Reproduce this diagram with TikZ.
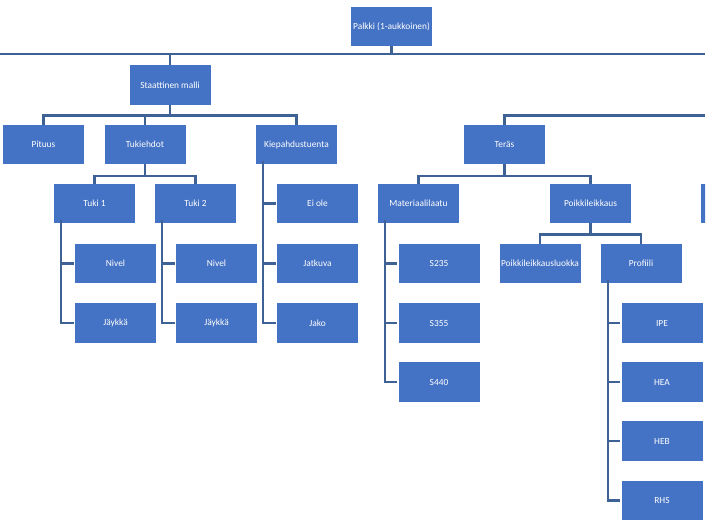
\documentclass[tikz,border=0pt]{standalone}
\usepackage{fontspec}
\setmainfont{Carlito}
\definecolor{boxblue}{RGB}{68,114,196}
\definecolor{lineblue}{RGB}{62,98,150}
\begin{document}
\begin{tikzpicture}[x=1bp,y=-1bp,
  box/.style={draw=none,fill=boxblue,text=white,minimum width=81bp,minimum height=39.5bp,inner sep=0pt,font=\fontsize{9.4bp}{10bp}\selectfont},
  conn/.style={draw=lineblue,line width=2.1bp}]
\useasboundingbox (0,0) rectangle (714,524);
\begin{scope}
\clip (0,0) rectangle (705,524);
% nodes
\node[box] (palkki) at (391.5,26.5) {Palkki (1-aukkoinen)};
\node[box] (staat) at (170,85) {Staattinen malli};
\node[box] (pituus) at (43.5,144.5) {Pituus};
\node[box] (tukiehdot) at (145,144.5) {Tukiehdot};
\node[box] (kiep) at (296.5,144.5) {Kiepahdustuenta};
\node[box] (tuki1) at (94.5,203.5) {Tuki 1};
\node[box] (tuki2) at (195.5,203.5) {Tuki 2};
\node[box] (eiole) at (317.5,203.5) {Ei ole};
\node[box] (nivel1) at (115.5,263.5) {Nivel};
\node[box] (jaykka1) at (115.5,323) {Jäykkä};
\node[box] (nivel2) at (216.5,263.5) {Nivel};
\node[box] (jaykka2) at (216.5,323) {Jäykkä};
\node[box] (jatkuva) at (317.5,263.5) {Jatkuva};
\node[box] (jako) at (317.5,323) {Jako};
\node[box] (teras) at (504.5,144.5) {Teräs};
\node[box] (mat) at (418.5,203.5) {Materiaalilaatu};
\node[box] (poik) at (590.5,203.5) {Poikkileikkaus};
\node[box] (partial) at (741.5,203.5) {};
\node[box] (s235) at (439,263.5) {S235};
\node[box] (s355) at (439,323) {S355};
\node[box] (s440) at (439,382) {S440};
\node[box] (pluokka) at (540,263.5) {Poikkileikkausluokka};
\node[box] (profiili) at (641,263.5) {Profiili};
\node[box] (ipe) at (662,323) {IPE};
\node[box] (hea) at (662,382) {HEA};
\node[box] (heb) at (662,441) {HEB};
\node[box] (rhs) at (662,500.5) {RHS};
% bus coordinates
\coordinate (l1a) at (0,54);
\coordinate (l1b) at (705,54);
\coordinate (l2) at (0,115.5);
\coordinate (l2b) at (705,115.5);
\coordinate (l3) at (0,176);
\coordinate (l4) at (0,234.5);
% top level
\draw[conn] (l1a) -- (l1b);
\draw[conn] (palkki.south) -- (palkki.south |- l1a);
\draw[conn] (staat.north) -- (staat.north |- l1a);
% staattinen malli
\draw[conn] (staat.south) -- (staat.south |- l2);
\draw[conn] (pituus.north) -- (pituus.north |- l2) -- (kiep.north |- l2) -- (kiep.north);
\draw[conn] (tukiehdot.north) -- (tukiehdot.north |- l2);
% tukiehdot
\draw[conn] (tukiehdot.south) -- (tukiehdot.south |- l3);
\draw[conn] (tuki1.north) -- (tuki1.north |- l3) -- (tuki2.north |- l3) -- (tuki2.north);
% tuki 1
\coordinate (t1x) at (61,0);
\draw[conn] ([yshift=3]tuki1.south -| t1x) -- (t1x |- jaykka1.west) -- ([xshift=-1]jaykka1.west);
\draw[conn] (t1x |- nivel1.west) -- ([xshift=-1]nivel1.west);
% tuki 2
\coordinate (t2x) at (162,0);
\draw[conn] ([yshift=3]tuki2.south -| t2x) -- (t2x |- jaykka2.west) -- ([xshift=-1]jaykka2.west);
\draw[conn] (t2x |- nivel2.west) -- ([xshift=-1]nivel2.west);
% kiepahdustuenta
\coordinate (kx) at (263,0);
\draw[conn] ([yshift=3]kiep.south -| kx) -- (kx |- jako.west) -- ([xshift=-1]jako.west);
\draw[conn] (kx |- eiole.west) -- ([xshift=-1]eiole.west);
\draw[conn] (kx |- jatkuva.west) -- ([xshift=-1]jatkuva.west);
% teras
\draw[conn] (teras.north) -- (teras.north |- l2) -- (l2b);
\draw[conn] (teras.south) -- (teras.south |- l3);
\draw[conn] (mat.north) -- (mat.north |- l3) -- (poik.north |- l3) -- (poik.north);
% materiaalilaatu
\coordinate (mx) at (385,0);
\draw[conn] ([yshift=3]mat.south -| mx) -- (mx |- s440.west) -- ([xshift=-1]s440.west);
\draw[conn] (mx |- s235.west) -- ([xshift=-1]s235.west);
\draw[conn] (mx |- s355.west) -- ([xshift=-1]s355.west);
% poikkileikkaus
\draw[conn] (poik.south) -- (poik.south |- l4);
\draw[conn] (pluokka.north) -- (pluokka.north |- l4) -- (profiili.north |- l4) -- (profiili.north);
% profiili
\coordinate (px) at (608,0);
\draw[conn] ([yshift=3]profiili.south -| px) -- (px |- rhs.west) -- ([xshift=-1]rhs.west);
\draw[conn] (px |- ipe.west) -- ([xshift=-1]ipe.west);
\draw[conn] (px |- hea.west) -- ([xshift=-1]hea.west);
\draw[conn] (px |- heb.west) -- ([xshift=-1]heb.west);
\end{scope}
\end{tikzpicture}
\end{document}
